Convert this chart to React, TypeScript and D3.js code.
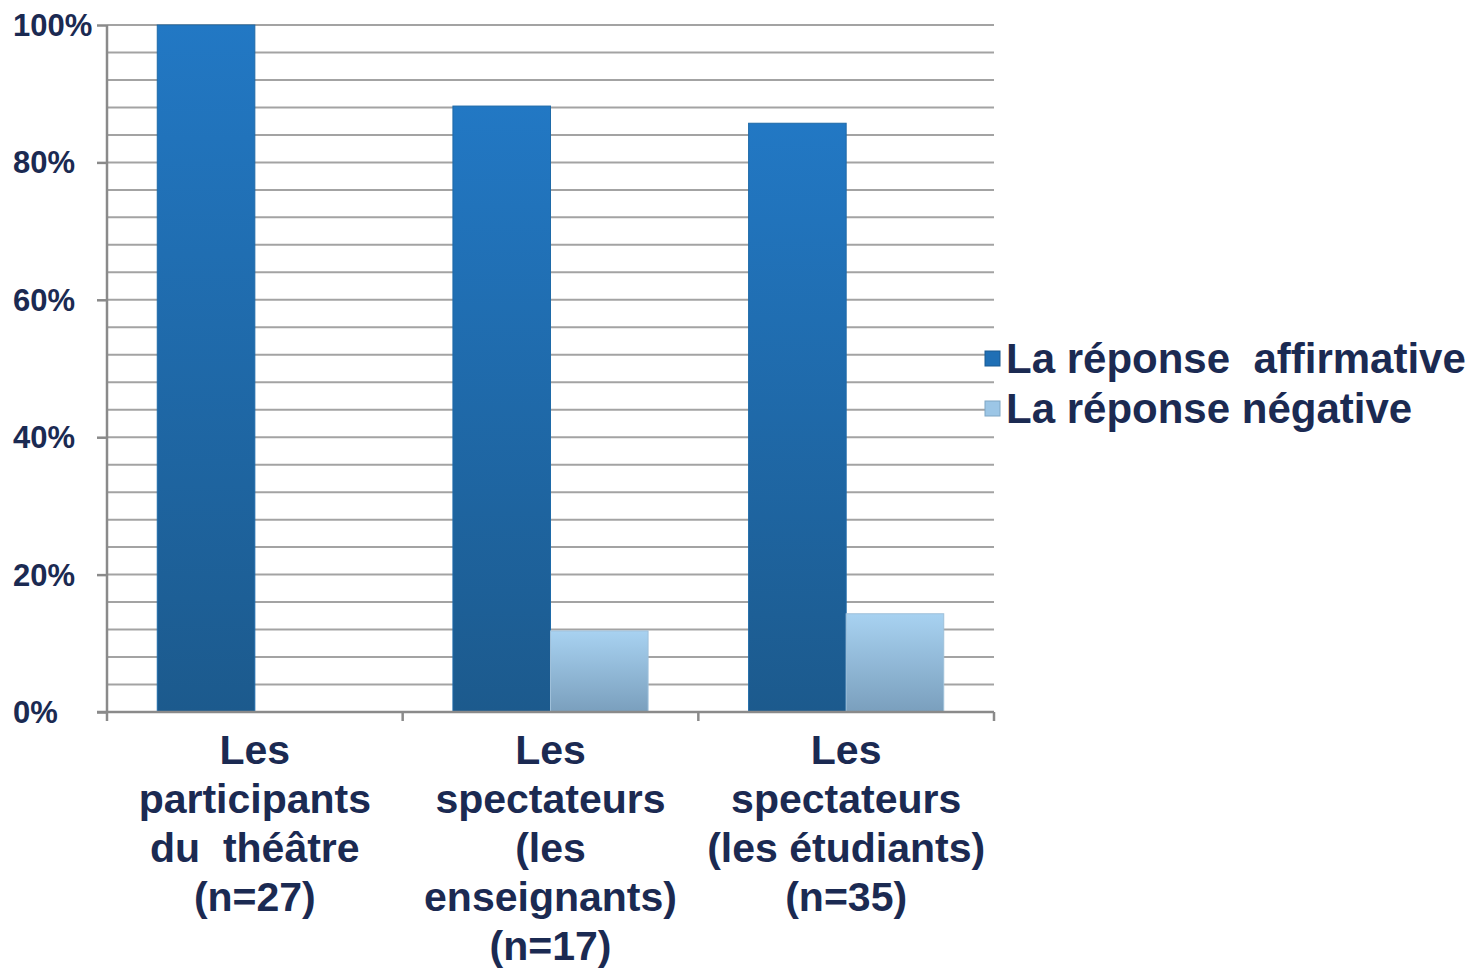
import { useEffect, useRef } from "react";
import * as d3 from "d3";

// categories (multi-line labels)
const categories = [
  ["Les", "participants", "du  théâtre", "(n=27)"],
  ["Les", "spectateurs", "(les", "enseignants)", "(n=17)"],
  ["Les", "spectateurs", "(les étudiants)", "(n=35)"],
];
const seriesNames = ["La réponse  affirmative", "La réponse négative"];
const affirmative = [1.0, 0.882, 0.857];
const negative = [0.0, 0.118, 0.143];
const tickLabels = ["0%", "20%", "40%", "60%", "80%", "100%"];

const TEXT = "#1b2a52";
const FONT = "'Liberation Sans', Arial, sans-serif";

export default function App() {
  const ref = useRef<SVGSVGElement | null>(null);

  useEffect(() => {
    if (!ref.current) return;
    const svg = d3.select(ref.current);
    svg.selectAll("*").remove();

    const left = 107, right = 994, top = 25, bottom = 712;
    const y = d3.scaleLinear().domain([0, 1]).range([bottom, top]);
    const x = d3.scaleBand<number>().domain(d3.range(categories.length)).range([left, right]);
    const bw = x.bandwidth();
    const xs = d3.scaleBand<number>().domain([0, 1]).range([bw * 0.17, bw * 0.83]);

    const defs = svg.append("defs");
    const g1 = defs.append("linearGradient").attr("id", "gAff").attr("x1", 0).attr("y1", 0).attr("x2", 0).attr("y2", 1);
    g1.append("stop").attr("offset", "0%").attr("stop-color", "#2278c4");
    g1.append("stop").attr("offset", "100%").attr("stop-color", "#1c5a8d");
    const g2 = defs.append("linearGradient").attr("id", "gNeg").attr("x1", 0).attr("y1", 0).attr("x2", 0).attr("y2", 1);
    g2.append("stop").attr("offset", "0%").attr("stop-color", "#a8d2f1");
    g2.append("stop").attr("offset", "100%").attr("stop-color", "#7a9fbd");

    // minor gridlines every 4%
    const grid = d3.range(0, 1.0001, 0.04);
    svg.append("g").selectAll("line").data(grid).join("line")
      .attr("x1", left).attr("x2", right)
      .attr("y1", d => y(d)).attr("y2", d => y(d))
      .attr("stroke", "#a3a3a3").attr("stroke-width", 2);

    // y axis
    const yAxis = svg.append("g")
      .attr("transform", `translate(${left},0)`)
      .call(d3.axisLeft(y).tickValues(d3.range(0, 1.0001, 0.2)).tickSize(10).tickFormat(() => ""));
    yAxis.selectAll("path, line").attr("stroke", "#8a8a8a").attr("stroke-width", 2.5);
    yAxis.select("path").attr("d", `M0,${top}V${bottom}`);

    svg.append("g").selectAll("text").data(tickLabels).join("text")
      .attr("x", 13).attr("y", (_, i) => y(i * 0.2) + 11)
      .attr("font-family", FONT).attr("font-weight", "bold").attr("font-size", 31)
      .attr("fill", TEXT).text(d => d);

    // bars
    const series = [affirmative, negative];
    const fills = ["url(#gAff)", "url(#gNeg)"];
    series.forEach((vals, s) => {
      svg.append("g").selectAll("rect").data(vals).join("rect")
        .attr("x", (_, i) => (x(i) ?? 0) + (xs(s) ?? 0))
        .attr("width", xs.bandwidth())
        .attr("y", d => y(d))
        .attr("height", d => y(0) - y(d))
        .attr("fill", fills[s])
        .attr("stroke", s === 0 ? "#1e6aa8" : "#9fc0da").attr("stroke-width", d => d > 0 ? 1 : 0);
    });

    // x axis
    const xAxis = svg.append("g");
    xAxis.append("line").attr("x1", left - 10).attr("x2", right).attr("y1", bottom).attr("y2", bottom)
      .attr("stroke", "#8a8a8a").attr("stroke-width", 2.5);
    const bounds = d3.range(categories.length + 1).map(i => left + i * bw);
    xAxis.selectAll("line.t").data(bounds).join("line").attr("class", "t")
      .attr("x1", d => d).attr("x2", d => d).attr("y1", bottom).attr("y2", bottom + 9)
      .attr("stroke", "#8a8a8a").attr("stroke-width", 2.5);

    categories.forEach((lines, i) => {
      const t = svg.append("text")
        .attr("text-anchor", "middle")
        .attr("font-family", FONT).attr("font-weight", "bold").attr("font-size", 41)
        .attr("fill", TEXT).style("white-space", "pre");
      lines.forEach((l, j) => {
        t.append("tspan").attr("x", (x(i) ?? 0) + bw / 2).attr("y", 764 + j * 49).text(l);
      });
    });

    // legend
    const colors = ["#1f6fb5", "#9cc6e6"];
    const leg = svg.append("g");
    seriesNames.forEach((name, i) => {
      const yy = 373 + i * 50;
      leg.append("rect").attr("x", 985).attr("y", yy - 22).attr("width", 15).attr("height", 15)
        .attr("fill", colors[i]).attr("stroke", i === 0 ? "#1a5a92" : "#7fa6c4").attr("stroke-width", 1);
      leg.append("text").attr("x", 1006).attr("y", yy)
        .attr("font-family", FONT).attr("font-weight", "bold").attr("font-size", 42)
        .attr("fill", TEXT).style("white-space", "pre").text(name);
    });
  }, []);

  return (
    <svg ref={ref} width={1483} height={969}
      style={{ position: "absolute", left: 0, top: 0, background: "#fff" }} />
  );
}
